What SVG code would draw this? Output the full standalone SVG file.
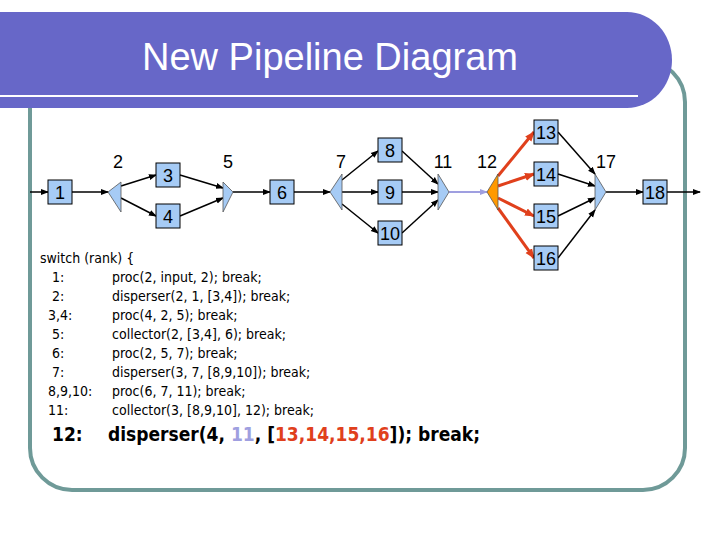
<svg xmlns="http://www.w3.org/2000/svg" width="720" height="540" viewBox="0 0 720 540">
<defs>
<marker id="a" markerWidth="8" markerHeight="8" refX="7" refY="4" orient="auto" markerUnits="userSpaceOnUse"><path d="M0,1 L8,4 L0,7 Z" fill="#000"/></marker>
<marker id="ar" markerWidth="10" markerHeight="10" refX="9" refY="5" orient="auto" markerUnits="userSpaceOnUse"><path d="M0,1 L10,5 L0,9 Z" fill="#e0401c"/></marker>
<marker id="al" markerWidth="8" markerHeight="8" refX="7" refY="4" orient="auto" markerUnits="userSpaceOnUse"><path d="M0,1 L8,4 L0,7 Z" fill="#9f9fe0"/></marker>
</defs>
<style>
.b{fill:#a6cbf5;stroke:#000;stroke-width:1}
.t{fill:#a6cbf5;stroke:#555;stroke-width:0.8}
.n{font-family:"Liberation Sans",Arial,sans-serif;font-size:18px;text-anchor:middle;fill:#000}
.c{font-family:"DejaVu Sans Condensed","DejaVu Sans",sans-serif;font-size:14px;fill:#000}
.cb{font-family:"DejaVu Sans Condensed","DejaVu Sans",sans-serif;font-size:19px;font-weight:bold;fill:#000}
#conn line{stroke:#000;stroke-width:1.5;marker-end:url(#a)}
#conn line.r{stroke:#e0401c;stroke-width:3;marker-end:url(#ar)}
#conn line.l{stroke:#9f9fe0;stroke-width:2;marker-end:url(#al)}
</style>
<rect width="720" height="540" fill="#fff"/>
<rect x="30" y="60" width="655" height="430" rx="42" fill="none" stroke="#6f9a98" stroke-width="4"/>
<path d="M0,12 H627 A45,48 0 0 1 627,108 H0 Z" fill="#6767c8"/>
<line x1="0" y1="96" x2="638" y2="96" stroke="#fff" stroke-width="2"/>
<text x="330" y="70" font-family="Liberation Sans,Arial,sans-serif" font-size="38" fill="#fff" text-anchor="middle">New Pipeline Diagram</text>
<g id="conn">
<line x1="30" y1="192" x2="48" y2="192"/>
<line x1="72" y1="192" x2="108" y2="192"/>
<line x1="121" y1="186" x2="156" y2="175"/>
<line x1="121" y1="198" x2="156" y2="216"/>
<line x1="180" y1="175" x2="223" y2="188"/>
<line x1="180" y1="216" x2="223" y2="198"/>
<line x1="233" y1="192" x2="270" y2="192"/>
<line x1="294" y1="192" x2="330" y2="192"/>
<line x1="342" y1="180" x2="378" y2="151"/>
<line x1="342" y1="192" x2="378" y2="192"/>
<line x1="342" y1="204" x2="378" y2="233"/>
<line x1="402" y1="151" x2="438" y2="184"/>
<line x1="402" y1="192" x2="438" y2="192"/>
<line x1="402" y1="233" x2="438" y2="200"/>
<line class="l" x1="449" y1="192" x2="487" y2="192"/>
<line class="r" x1="498" y1="176" x2="534" y2="132"/>
<line class="r" x1="498" y1="186" x2="534" y2="174"/>
<line class="r" x1="498" y1="198" x2="534" y2="216"/>
<line class="r" x1="498" y1="208" x2="534" y2="258"/>
<line x1="558" y1="132" x2="595" y2="174"/>
<line x1="558" y1="174" x2="595" y2="186"/>
<line x1="558" y1="216" x2="595" y2="198"/>
<line x1="558" y1="258" x2="595" y2="210"/>
<line x1="606" y1="192" x2="643" y2="192"/>
<line x1="666" y1="192" x2="700" y2="192"/>
</g>
<g id="n1"><rect class="b" x="48" y="180" width="24" height="24"/><text class="n" x="60" y="199">1</text></g>
<g id="n2"><polygon class="t" points="108,192 121,182 121,212"/><text class="n" x="118" y="168">2</text></g>
<g id="n3"><rect class="b" x="156" y="163" width="24" height="24"/><text class="n" x="168" y="182">3</text></g>
<g id="n4"><rect class="b" x="156" y="204" width="24" height="24"/><text class="n" x="168" y="223">4</text></g>
<g id="n5"><polygon class="t" points="223,182 233,192 223,212"/><text class="n" x="228" y="168">5</text></g>
<g id="n6"><rect class="b" x="270" y="180" width="24" height="24"/><text class="n" x="282" y="199">6</text></g>
<g id="n7"><polygon class="t" points="330,192 342,174 342,210"/><text class="n" x="341" y="168">7</text></g>
<g id="n8"><rect class="b" x="378" y="138" width="24" height="24"/><text class="n" x="390" y="157">8</text></g>
<g id="n9"><rect class="b" x="378" y="180" width="24" height="24"/><text class="n" x="390" y="199">9</text></g>
<g id="n10"><rect class="b" x="378" y="221" width="24" height="24"/><text class="n" x="390" y="240">10</text></g>
<g id="n11"><polygon class="t" points="438,174 449,192 438,210"/><text class="n" x="443" y="168">11</text></g>
<g id="n12"><polygon points="487,192 498,174 498,210" fill="#ff9900" stroke="#555" stroke-width="0.8"/><text class="n" x="487" y="168">12</text></g>
<g id="n13"><rect class="b" x="534" y="120" width="24" height="24"/><text class="n" x="546" y="139">13</text></g>
<g id="n14"><rect class="b" x="534" y="162" width="24" height="24"/><text class="n" x="546" y="181">14</text></g>
<g id="n15"><rect class="b" x="534" y="204" width="24" height="24"/><text class="n" x="546" y="223">15</text></g>
<g id="n16"><rect class="b" x="534" y="246" width="24" height="24"/><text class="n" x="546" y="265">16</text></g>
<g id="n17"><polygon class="t" points="595,174 606,192 595,210"/><text class="n" x="606" y="168">17</text></g>
<g id="n18"><rect class="b" x="643" y="180" width="24" height="24"/><text class="n" x="655" y="199">18</text></g>
<g id="code">
<text class="c" x="40" y="263">switch (rank) {</text>
<text class="c" x="52" y="282">1:</text><text class="c" x="112" y="282">proc(2, input, 2); break;</text>
<text class="c" x="52" y="301">2:</text><text class="c" x="112" y="301">disperser(2, 1, [3,4]); break;</text>
<text class="c" x="48" y="320">3,4:</text><text class="c" x="112" y="320">proc(4, 2, 5); break;</text>
<text class="c" x="52" y="339">5:</text><text class="c" x="112" y="339">collector(2, [3,4], 6); break;</text>
<text class="c" x="52" y="358">6:</text><text class="c" x="112" y="358">proc(2, 5, 7); break;</text>
<text class="c" x="52" y="377">7:</text><text class="c" x="112" y="377">disperser(3, 7, [8,9,10]); break;</text>
<text class="c" x="48" y="396">8,9,10:</text><text class="c" x="112" y="396">proc(6, 7, 11); break;</text>
<text class="c" x="48" y="415">11:</text><text class="c" x="112" y="415">collector(3, [8,9,10], 12); break;</text>
<text class="cb" x="52" y="441">12:</text><text class="cb" x="108" y="441">disperser(4, <tspan fill="#9f9fe0">11</tspan>, [<tspan fill="#e0401c">13,14,15,16</tspan>]); break;</text>
</g>
</svg>
